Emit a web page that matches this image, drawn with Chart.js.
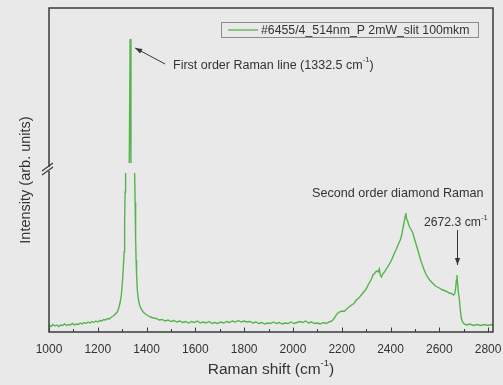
<!DOCTYPE html>
<html>
<head>
<meta charset="utf-8">
<script src="https://cdn.jsdelivr.net/npm/chart.js@4/dist/chart.umd.min.js"></script>
<style>
  html, body { margin: 0; padding: 0; background: #e9e9e9; }
  #wrap { width: 503px; height: 385px; }
</style>
</head>
<body>
<div id="wrap"><canvas id="c" width="503" height="385"></canvas></div>
<script>
// Raman shift (cm^-1)
const wavenumber = [
  1000,1008,1016,1024,1032,1040,1048,1056,1064,1072,1080,1088,1096,1104,1112,1120,1128,1136,1144,1152,
  1160,1168,1176,1184,1192,1200,1208,1216,1224,1232,1240,1248,1256,1264,1272,1280,1286,1292,1297,1301,
  1305,1308,1310,1312,1314,1322,1329,1332.5,1336,1343,1351,1353,1355,1357,1359,1362,1366,1371,1378,1386,
  1395,1405,1416,1428,1440,1452,1464,1476,1488,1500,1512,1524,1536,1548,1560,1572,1584,1596,1608,1620,
  1632,1644,1656,1668,1680,1692,1704,1716,1728,1740,1752,1764,1776,1788,1800,1812,1824,1836,1848,1860,
  1872,1884,1896,1908,1920,1932,1944,1956,1968,1980,1992,2004,2016,2028,2040,2052,2064,2076,2088,2100,
  2112,2124,2136,2148,2160,2170,2180,2190,2200,2210,2220,2230,2240,2250,2260,2270,2280,2290,2300,2310,
  2320,2328,2336,2342,2349,2354,2358,2363,2368,2375,2385,2393,2400,2408,2416,2424,2432,2440,2446,2451,
  2456,2460,2463,2466,2470,2475,2480,2485,2490,2496,2502,2508,2514,2520,2526,2532,2538,2545,2552,2560,
  2568,2576,2584,2592,2600,2610,2620,2630,2640,2650,2658,2663,2667,2670,2672.3,2675,2678,2682,2686,2690,
  2695,2702,2712,2725,2740,2755,2770,2785,2800,2812,2820
];
// Intensity (arb. units, as drawn on the broken axis; null = axis break)
const intensity = [
  7,5.5,7.5,6,7,5.5,7,6.5,8,6.5,7.5,7,8.5,7,8,7.5,9,8,9.5,8.5,
  10,9,10.5,9.5,11,10,11.5,11,12.5,12,13.5,13,15,16,18,20,24,30,38,50,
  66,80,110,140,159,null,169,293,169,null,159,130,95,72,58,42,33,27,23,20,
  18,16.5,15,14,13.5,12,12.5,11,12,10.5,11.5,10,11,9.5,10.5,9,10.5,9.5,11,9,
  10,9,10.5,8.5,9.5,8.5,10,9,10.5,9.5,11,10,11.5,10,11,10,10.5,9,10,8.5,
  9.5,8,9,8.5,10,8.5,9.5,8,9,8.5,10,8.5,9.5,10.5,9.5,11,9,10,8.5,9,
  8,9.5,8.5,10,11,14,18,20,21,20.5,23,25,27,28.5,32,34,37,40,43,48,
  52,57,59,61,60,63,57,55,58,60,64,67,70,74,79,83,88,92,97,104,
  110,116,119,113,111,107,104,102,100,95,90,85,80,75,70,66,62,58,55,52,
  50,48,46,45,44,42.5,41.5,40.5,39,38.5,37,38,44,52,57,48,40,33,22,14,
  10,8,7,8,6.5,7.5,6.5,7.5,6.5,7.5,7
];
const xTickValues = [1000,1200,1400,1600,1800,2000,2200,2400,2600,2800];
const xMinorStep = 100;
const seriesLabel = '#6455/4_514nm_P 2mW_slit 100mkm';
const xRange = [1000, 2820];
const yRange = [0, 324];
const firstPeak = [1332.5, 293];
const secondPeak = [2672.3, 57];

const BG = '#e9e9e9';
const TXT = '#333333';
const GREEN = '#55b54b';
const FONT = '"Liberation Sans", Arial, sans-serif';

function drawSup(ctx, parts, x, y, size, align) {
  const widths = parts.map(([t, s]) => {
    ctx.font = (s ? size * 0.62 : size) + 'px ' + FONT;
    return ctx.measureText(t).width;
  });
  const total = widths.reduce((a, b) => a + b, 0);
  let cx = align === 'center' ? x - total / 2 : x;
  parts.forEach(([t, s], i) => {
    ctx.font = (s ? size * 0.62 : size) + 'px ' + FONT;
    ctx.fillText(t, cx, s ? y - size * 0.42 : y);
    cx += widths[i];
  });
}

function arrow(ctx, x1, y1, x2, y2) {
  ctx.beginPath();
  ctx.moveTo(x1, y1);
  ctx.lineTo(x2, y2);
  ctx.stroke();
  const ang = Math.atan2(y2 - y1, x2 - x1);
  const L = 7, W = 2.6;
  ctx.beginPath();
  ctx.moveTo(x2, y2);
  ctx.lineTo(x2 - L * Math.cos(ang) + W * Math.sin(ang), y2 - L * Math.sin(ang) - W * Math.cos(ang));
  ctx.lineTo(x2 - L * Math.cos(ang) - W * Math.sin(ang), y2 - L * Math.sin(ang) + W * Math.cos(ang));
  ctx.closePath();
  ctx.fill();
}

const decor = {
  id: 'decor',
  beforeDraw(chart) {
    const ctx = chart.ctx;
    ctx.save();
    ctx.fillStyle = BG;
    ctx.fillRect(0, 0, chart.width, chart.height);
    ctx.restore();
  },
  afterDraw(chart) {
    const { ctx, chartArea: a, scales: { x, y } } = chart;
    ctx.save();
    // frame
    ctx.strokeStyle = '#3a3a3a';
    ctx.lineWidth = 1.5;
    ctx.strokeRect(a.left, a.top, a.right - a.left, a.bottom - a.top);
    // inward ticks on bottom axis
    ctx.lineWidth = 1;
    for (let v = xRange[0]; v <= xRange[1]; v += xMinorStep) {
      const px = Math.round(x.getPixelForValue(v)) + 0.5;
      const len = (v % 200 === 0) ? 4.5 : 3;
      ctx.beginPath();
      ctx.moveTo(px, a.bottom);
      ctx.lineTo(px, a.bottom - len);
      ctx.stroke();
    }
    // axis break mark on left axis
    ctx.fillStyle = BG;
    ctx.fillRect(a.left - 2, 167, 4, 4);
    ctx.strokeStyle = '#3a3a3a';
    ctx.lineWidth = 1.2;
    ctx.beginPath();
    ctx.moveTo(a.left - 7, 175); ctx.lineTo(a.left + 4, 167);
    ctx.moveTo(a.left - 7, 171); ctx.lineTo(a.left + 4, 163);
    ctx.stroke();

    ctx.fillStyle = TXT;
    ctx.textBaseline = 'middle';
    // x title
    drawSup(ctx, [['Raman shift (cm', false], ['-1', true], [')', false]],
      271, 370, 15.5, 'center');
    // y title
    ctx.save();
    ctx.translate(26, 180);
    ctx.rotate(-Math.PI / 2);
    ctx.textAlign = 'center';
    ctx.font = '14.5px ' + FONT;
    ctx.fillText('Intensity (arb. units)', 0, 0);
    ctx.restore();

    // annotations
    ctx.fillStyle = '#363636';
    ctx.strokeStyle = '#363636';
    ctx.lineWidth = 1;
    const p1x = x.getPixelForValue(firstPeak[0]);
    const p1y = y.getPixelForValue(firstPeak[1]);
    arrow(ctx, p1x + 35, p1y + 25, p1x + 5, p1y + 9);
    ctx.fillStyle = TXT;
    drawSup(ctx, [['First order Raman line (1332.5 cm', false], ['-1', true], [')', false]],
      173, 65.5, 12.5, 'left');
    drawSup(ctx, [['Second order diamond Raman', false]], 312, 194, 12.6, 'left');
    drawSup(ctx, [['2672.3 cm', false], ['-1', true]], 424, 223, 12.2, 'left');
    const p2x = Math.round(x.getPixelForValue(secondPeak[0])) + 0.5;
    const p2y = y.getPixelForValue(secondPeak[1]);
    ctx.fillStyle = '#363636';
    arrow(ctx, p2x, 230, p2x, p2y - 10);

    // legend
    ctx.strokeStyle = '#8c8c8c';
    ctx.lineWidth = 1;
    ctx.strokeRect(221.5, 22.5, 257, 15);
    ctx.strokeStyle = GREEN;
    ctx.lineWidth = 1.3;
    ctx.beginPath();
    ctx.moveTo(228, 30); ctx.lineTo(258, 30);
    ctx.stroke();
    ctx.fillStyle = TXT;
    ctx.font = '12.3px ' + FONT;
    ctx.textAlign = 'left';
    ctx.fillText(chart.data.datasets[0].label, 261, 30.5);
    ctx.restore();
  }
};

const points = wavenumber.map((w, i) => ({ x: w, y: intensity[i] }));

new Chart(document.getElementById('c'), {
  type: 'line',
  data: {
    datasets: [{
      label: seriesLabel,
      data: points,
      borderColor: GREEN,
      borderWidth: 1.4,
      pointRadius: 0,
      tension: 0,
      spanGaps: false,
      fill: false
    }]
  },
  options: {
    responsive: false,
    animation: false,
    devicePixelRatio: 1,
    layout: { padding: { left: 0, top: 8, right: 10, bottom: 0 } },
    plugins: { legend: { display: false }, tooltip: { enabled: false } },
    scales: {
      x: {
        type: 'linear',
        min: xRange[0],
        max: xRange[1],
        border: { display: false },
        grid: { display: false, drawTicks: false },
        afterBuildTicks: s => { s.ticks = xTickValues.map(v => ({ value: v })); },
        afterFit: s => { s.height = 53; s.paddingLeft = 0; s.paddingRight = 0; },
        ticks: {
          autoSkip: false,
          maxRotation: 0,
          padding: 10,
          color: TXT,
          font: { family: FONT, size: 12 },
          callback: v => String(v)
        }
      },
      y: {
        type: 'linear',
        min: yRange[0],
        max: yRange[1],
        border: { display: false },
        grid: { display: false, drawTicks: false },
        ticks: { display: false },
        afterFit: s => { s.width = 49; s.paddingTop = 0; s.paddingBottom = 0; }
      }
    }
  },
  plugins: [decor]
});
</script>
</body>
</html>
